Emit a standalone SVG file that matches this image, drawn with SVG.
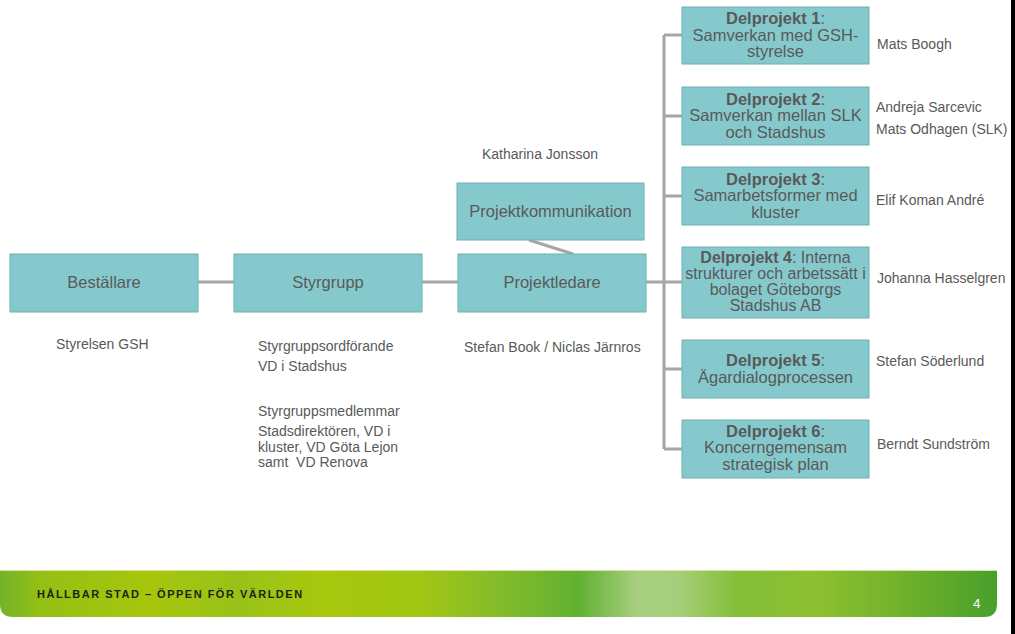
<svg xmlns="http://www.w3.org/2000/svg" width="1015" height="634" viewBox="0 0 1015 634">
<defs>
<style>
.box{fill:#86c9cd;stroke:#6fb0b5;stroke-width:1}
.bt{font-family:"Liberation Sans",Arial,sans-serif;font-size:16.5px;fill:#595959;text-anchor:middle}
.sm{font-size:16px}
.b{font-weight:bold}
.lbl{font-family:"Liberation Sans",Arial,sans-serif;font-size:14px;fill:#595959}
.con{stroke:#a6a6a6;stroke-width:3;fill:none}
</style>
<linearGradient id="band" x1="0" y1="0" x2="1" y2="0">
<stop offset="0" stop-color="#72b22a"/>
<stop offset="0.04" stop-color="#94c014"/>
<stop offset="0.15" stop-color="#a6c60c"/>
<stop offset="0.24" stop-color="#98c218"/>
<stop offset="0.32" stop-color="#a8c80e"/>
<stop offset="0.42" stop-color="#a2c612"/>
<stop offset="0.5" stop-color="#84bc2a"/>
<stop offset="0.58" stop-color="#62b032"/>
<stop offset="0.64" stop-color="#a8cf80"/>
<stop offset="0.68" stop-color="#a6cf7a"/>
<stop offset="0.74" stop-color="#84be38"/>
<stop offset="0.82" stop-color="#8cc030"/>
<stop offset="0.9" stop-color="#72b22c"/>
<stop offset="1" stop-color="#48a02c"/>
</linearGradient>
</defs>
<rect width="1015" height="634" fill="#ffffff"/>
<rect x="1011" y="0" width="4" height="634" fill="#000000"/>

<g id="connectors">
<line class="con" x1="198" y1="282" x2="234" y2="282"/>
<line class="con" x1="422" y1="282" x2="458" y2="282"/>
<line class="con" x1="646" y1="282" x2="682" y2="282"/>
<line class="con" x1="664" y1="35" x2="664" y2="449"/>
<line class="con" x1="664" y1="35" x2="682" y2="35"/>
<line class="con" x1="664" y1="116" x2="682" y2="116"/>
<line class="con" x1="664" y1="196" x2="682" y2="196"/>
<line class="con" x1="664" y1="369" x2="682" y2="369"/>
<line class="con" x1="664" y1="449" x2="682" y2="449"/>
<line class="con" x1="529" y1="240" x2="573" y2="254"/>
</g>

<g id="bestallare">
<rect class="box" x="10" y="254" width="188" height="58"/>
<text class="bt" x="104" y="288">Beställare</text>
<text class="lbl" x="56" y="349">Styrelsen GSH</text>
</g>

<g id="styrgrupp">
<rect class="box" x="234" y="254" width="188" height="58"/>
<text class="bt" x="328" y="288">Styrgrupp</text>
<text class="lbl" x="258" y="351">Styrgruppsordförande</text>
<text class="lbl" x="258" y="371">VD i Stadshus</text>
<text class="lbl" x="258" y="416">Styrgruppsmedlemmar</text>
<text class="lbl" x="258" y="436">Stadsdirektören, VD i</text>
<text class="lbl" x="258" y="452">kluster, VD Göta Lejon</text>
<text class="lbl" x="258" y="467" xml:space="preserve">samt  VD Renova</text>
</g>

<g id="projektkommunikation">
<rect class="box" x="457" y="183" width="187" height="57"/>
<text class="bt" x="550.5" y="217">Projektkommunikation</text>
<text class="lbl" x="482" y="159">Katharina Jonsson</text>
</g>

<g id="projektledare">
<rect class="box" x="458" y="254" width="188" height="58"/>
<text class="bt" x="552" y="288">Projektledare</text>
<text class="lbl" x="464" y="352">Stefan Book / Niclas Järnros</text>
</g>

<g id="dp1">
<rect class="box" x="682" y="7" width="187" height="57"/>
<text class="bt" x="775.5" y="24"><tspan class="b">Delprojekt 1</tspan>:</text>
<text class="bt" x="775.5" y="40.5">Samverkan med GSH-</text>
<text class="bt" x="775.5" y="57">styrelse</text>
<text class="lbl" x="877" y="48.5">Mats Boogh</text>
</g>

<g id="dp2">
<rect class="box" x="682" y="87" width="187" height="58"/>
<text class="bt" x="775.5" y="104.5"><tspan class="b">Delprojekt 2</tspan>:</text>
<text class="bt" x="775.5" y="121">Samverkan mellan SLK</text>
<text class="bt" x="775.5" y="137.5">och Stadshus</text>
<text class="lbl" x="876" y="112">Andreja Sarcevic</text>
<text class="lbl" x="876" y="133.5">Mats Odhagen (SLK)</text>
</g>

<g id="dp3">
<rect class="box" x="682" y="167" width="187" height="58"/>
<text class="bt" x="775.5" y="184.5"><tspan class="b">Delprojekt 3</tspan>:</text>
<text class="bt" x="775.5" y="201">Samarbetsformer med</text>
<text class="bt" x="775.5" y="217.5">kluster</text>
<text class="lbl" x="876" y="205">Elif Koman André</text>
</g>

<g id="dp4">
<rect class="box" x="682" y="247" width="187" height="71"/>
<text class="bt sm" x="775.5" y="262.5"><tspan class="b">Delprojekt 4</tspan>: Interna</text>
<text class="bt sm" x="775.5" y="279">strukturer och arbetssätt i</text>
<text class="bt sm" x="775.5" y="295">bolaget Göteborgs</text>
<text class="bt sm" x="775.5" y="311">Stadshus AB</text>
<text class="lbl" x="877" y="282.5">Johanna Hasselgren</text>
</g>

<g id="dp5">
<rect class="box" x="682" y="340" width="187" height="58"/>
<text class="bt" x="775.5" y="366"><tspan class="b">Delprojekt 5</tspan>:</text>
<text class="bt" x="775.5" y="383">Ägardialogprocessen</text>
<text class="lbl" x="876" y="366">Stefan Söderlund</text>
</g>

<g id="dp6">
<rect class="box" x="682" y="420" width="187" height="58"/>
<text class="bt" x="775.5" y="437"><tspan class="b">Delprojekt 6</tspan>:</text>
<text class="bt" x="775.5" y="453">Koncerngemensam</text>
<text class="bt" x="775.5" y="469.5">strategisk plan</text>
<text class="lbl" x="877" y="448.5">Berndt Sundström</text>
</g>

<g id="footer">
<path d="M0,570 H997 V604 Q997,617 984,617 H13 Q0,617 0,604 Z" fill="url(#band)"/>
<line x1="0" y1="570.5" x2="997" y2="570.5" stroke="#d8e6a0" stroke-width="1"/>
<text x="37" y="598" font-family="Liberation Sans,Arial,sans-serif" font-size="11px" font-weight="bold" letter-spacing="1.5" fill="#1e2410">HÅLLBAR STAD – ÖPPEN FÖR VÄRLDEN</text>
<text x="973" y="608" font-family="Liberation Sans,Arial,sans-serif" font-size="13.5px" fill="#ffffff">4</text>
</g>
</svg>
